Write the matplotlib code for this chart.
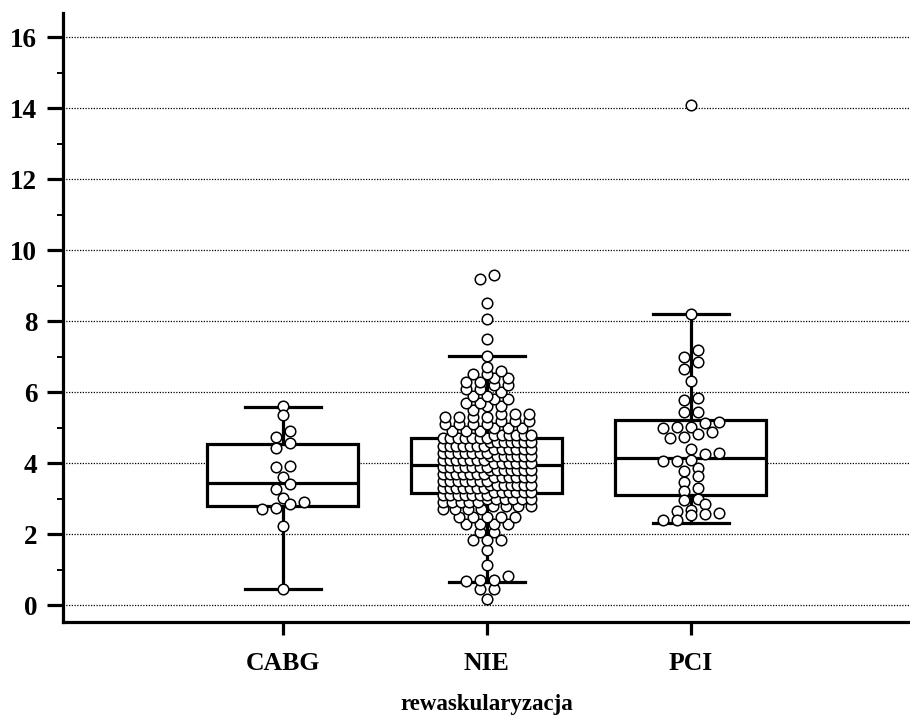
import numpy as np
import matplotlib
matplotlib.use('Agg')
import matplotlib.pyplot as plt
from matplotlib.ticker import MultipleLocator

# groups on the x axis
categories = ['CABG', 'NIE', 'PCI']
x_label = 'rewaskularyzacja'

# individual observations
cabg = [5.61, 5.35, 4.91, 4.74, 4.57, 4.44, 3.93, 3.89, 3.61, 3.41, 3.28,
        3.01, 2.92, 2.84, 2.74, 2.72, 2.23, 0.47]

# NIE is dense, so it is kept as value levels with their counts
nie_levels = [0.19, 0.45, 0.69, 0.70, 0.72, 0.82, 1.13, 1.56, 1.84, 2.07,
              2.28, 2.49, 2.7, 2.8, 2.9, 3.0, 3.1, 3.2, 3.3, 3.4,
              3.5, 3.6, 3.7, 3.8, 3.9, 4.0, 4.1, 4.2, 4.3, 4.4,
              4.5, 4.6, 4.7, 4.8, 4.9, 5.0, 5.1, 5.2, 5.3, 5.4,
              5.5, 5.6, 5.7, 5.8, 5.9, 6.0, 6.1, 6.2, 6.3, 6.4,
              6.5, 6.6, 6.7, 7.02, 7.5, 8.06, 8.5, 9.2, 9.3]
nie_counts = [1, 2, 1, 1, 1, 1, 1, 1, 3, 2,
              4, 5, 4, 4, 5, 6, 7, 6, 7, 7,
              7, 6, 7, 7, 7, 6, 7, 7, 7, 6,
              7, 7, 7, 6, 3, 3, 4, 3, 4, 3,
              1, 2, 2, 2, 2, 1, 2, 2, 2, 2,
              2, 1, 1, 1, 1, 1, 1, 1, 1]

pci = [14.1, 8.2, 7.18, 6.99, 6.85, 6.66, 6.32, 5.85, 5.77, 5.44, 5.43,
       5.16, 5.12, 5.02, 5.01, 4.98, 4.88, 4.82, 4.74, 4.70, 4.39, 4.28,
       4.25, 4.10, 4.07, 4.07, 3.88, 3.78, 3.63, 3.47, 3.29, 3.21, 3.00,
       2.96, 2.84, 2.68, 2.65, 2.60, 2.58, 2.54, 2.41, 2.39]

# box statistics: lower whisker, q1, median, q3, upper whisker
whisk_lo = [0.45, 0.66, 2.33]
q1 = [2.80, 3.16, 3.10]
median = [3.45, 3.96, 4.16]
q3 = [4.55, 4.72, 5.23]
whisk_hi = [5.58, 7.02, 8.2]

W, H, DPI = 910, 719, 100
ax_left, ax_bottom, ax_right, ax_top = 63, 622, 910, 13
xlim = (-1.078, 3.074)
ylim = (-0.47, 16.68)
px_x = (ax_right - ax_left) / (xlim[1] - xlim[0])

# dot rows: height per group in data units, gap between dots and widest
# row in px
row_h = [0.22, 0.2, 0.22]
dot_step = 14.0
row_span = 88.0


# points closer than h to the first point of a row share that row and are
# spread sideways (lowest value on the left); long rows get squeezed
def row_offsets(vals, h):
    vals = np.asarray(vals, dtype=float)
    order = np.argsort(vals, kind='stable')
    offs = np.zeros(len(vals))
    rows, cur, start = [], [], None
    for i in order:
        if start is None or vals[i] - start >= h - 1e-6:
            if cur:
                rows.append(cur)
            cur, start = [], vals[i]
        cur.append(i)
    if cur:
        rows.append(cur)
    for r in rows:
        n = len(r)
        step = dot_step if n < 2 else min(dot_step, row_span / (n - 1))
        offs[r] = (np.arange(n) - (n - 1) / 2) * step
    return offs


plt.rcParams['font.family'] = ['Liberation Serif', 'DejaVu Serif']
plt.rcParams['font.weight'] = 'bold'

fig = plt.figure(figsize=(W / DPI, H / DPI), dpi=DPI)
ax = fig.add_axes([ax_left / W, 1 - ax_bottom / H,
                   (ax_right - ax_left) / W, (ax_bottom - ax_top) / H])
ax.set_xlim(*xlim)
ax.set_ylim(*ylim)

# dotted grid at the major ticks
for v in range(0, 17, 2):
    ax.axhline(v, color='black', lw=0.9, ls=(0, (1, 1.2)), zorder=0)

stats = []
for i in range(len(categories)):
    stats.append({'whislo': whisk_lo[i], 'q1': q1[i], 'med': median[i],
                  'q3': q3[i], 'whishi': whisk_hi[i], 'fliers': []})
lw = 2.3
ax.bxp(stats, positions=range(len(categories)), widths=0.74,
       capwidths=0.37, showfliers=False, patch_artist=True,
       boxprops=dict(facecolor='white', edgecolor='black', linewidth=lw),
       whiskerprops=dict(color='black', linewidth=lw),
       capprops=dict(color='black', linewidth=lw),
       medianprops=dict(color='black', linewidth=lw), zorder=2)

nie = np.repeat(nie_levels, nie_counts)
for i, vals in enumerate([cabg, nie, pci]):
    offs = row_offsets(vals, row_h[i])
    ax.plot(i + offs / px_x, vals, 'o', ms=7.6, mfc='white', mec='black',
            mew=1.1, zorder=3, clip_on=False)

ax.spines['top'].set_visible(False)
ax.spines['right'].set_visible(False)
ax.spines['left'].set_linewidth(2.3)
ax.spines['bottom'].set_linewidth(2.3)

ax.yaxis.set_major_locator(MultipleLocator(2))
ax.yaxis.set_minor_locator(MultipleLocator(1))
ax.tick_params(axis='y', which='major', length=11.5, width=2.3, pad=7,
               labelsize=19.5)
ax.tick_params(axis='y', which='minor', length=4.5, width=1.4)
ax.set_xticks(range(len(categories)))
ax.set_xticklabels(categories)
ax.tick_params(axis='x', which='major', length=9.5, width=2.3, pad=12,
               labelsize=18.5)
ax.tick_params(axis='x', which='minor', bottom=False)
ax.set_xlabel(x_label, fontsize=16.5, fontweight='bold', labelpad=14)

fig.savefig('out.png', dpi=DPI)
